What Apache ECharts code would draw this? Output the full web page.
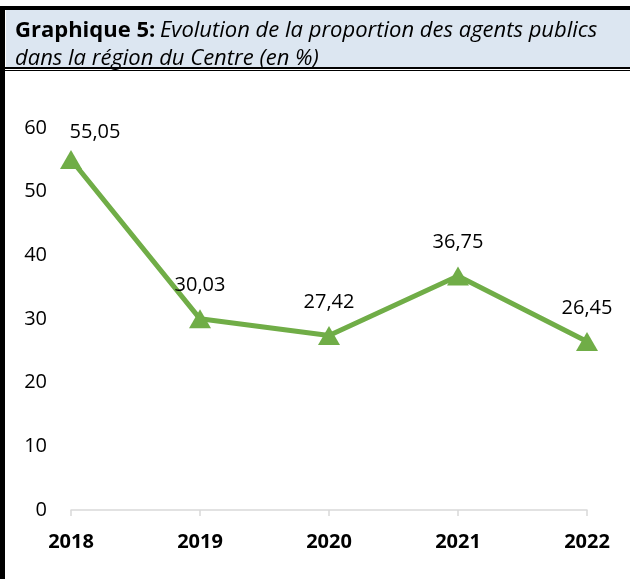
<!DOCTYPE html>
<html>
<head>
<meta charset="utf-8">
<script src="https://cdn.jsdelivr.net/npm/echarts@6/dist/echarts.min.js"></script>
<style>
	html, body { margin: 0; padding: 0; background: #fff; }
	#chart { width: 630px; height: 579px; }
</style>
</head>
<body>
<div id="chart"></div>
<script>
// données
var years = ['2018', '2019', '2020', '2021', '2022'];
var proportion = [55.05, 30.03, 27.42, 36.75, 26.45];
var yTicks = [0, 10, 20, 30, 40, 50, 60];

var green = '#70ad47';
var font = 'Open Sans';

var myChart = echarts.init(document.getElementById('chart'));

// le premier libellé est décalé vers la droite (comme dans Excel)
var seriesData = proportion.map(function(v, i) {
	var item = { value: v };
	if(i === 0) {
		item.label = { offset: [24, 6] };
	}
	return item;
});

var option = {
	animation: false,
	backgroundColor: '#fff',
	title: {
		left: 10,
		top: 12,
		text: '{b|Graphique 5:} {i|Evolution de la proportion des agents publics}\n{i|dans la région du Centre (en %)}',
		textStyle: {
			fontWeight: 'normal',
			fontFamily: font,
			rich: {
				b: { fontFamily: font, fontWeight: 'bold', fontStyle: 'normal', fontSize: 22, color: '#000', lineHeight: 28 },
				i: { fontFamily: font, fontWeight: 'normal', fontStyle: 'italic', fontSize: 22, color: '#000', lineHeight: 28 }
			}
		}
	},
	graphic: [
		// fond du titre
		{ type: 'rect', z: -1, shape: { x: 6, y: 10, width: 624, height: 57 }, style: { fill: '#dce6f1' } },
		// bordure haute
		{ type: 'rect', shape: { x: 0, y: 6, width: 630, height: 4 }, style: { fill: '#000' } },
		// double trait sous le titre
		{ type: 'rect', shape: { x: 0, y: 67, width: 630, height: 2 }, style: { fill: '#000' } },
		{ type: 'rect', shape: { x: 0, y: 70, width: 630, height: 1 }, style: { fill: '#000' } },
		// bordure gauche
		{ type: 'rect', shape: { x: 0, y: 6, width: 5, height: 573 }, style: { fill: '#000' } }
	],
	grid: {
		left: 71,
		right: 43,
		top: 128,
		bottom: 69,
		containLabel: false
	},
	xAxis: {
		type: 'category',
		boundaryGap: false,
		data: years,
		axisLine: { lineStyle: { color: '#d9d9d9', width: 1.5 } },
		axisTick: { show: true, length: 6, inside: false, lineStyle: { color: '#d9d9d9', width: 1.5 } },
		axisLabel: {
			margin: 22,
			color: '#000',
			fontFamily: font,
			fontWeight: 'bold',
			fontSize: 20
		}
	},
	yAxis: {
		type: 'value',
		min: yTicks[0],
		max: yTicks[yTicks.length - 1],
		interval: 10,
		splitLine: { show: false },
		axisLine: { show: false },
		axisTick: { show: false },
		axisLabel: {
			margin: 24,
			color: '#000',
			fontFamily: font,
			fontSize: 20
		}
	},
	series: [{
		type: 'line',
		data: seriesData,
		symbol: 'triangle',
		symbolSize: [22, 19],
		itemStyle: { color: green },
		lineStyle: { color: green, width: 5 },
		label: {
			show: true,
			position: 'top',
			distance: 14,
			color: '#000',
			fontFamily: font,
			fontSize: 20,
			formatter: function(p) {
				return p.value.toFixed(2).replace('.', ',');
			}
		}
	}]
};

myChart.setOption(option);
</script>
</body>
</html>
